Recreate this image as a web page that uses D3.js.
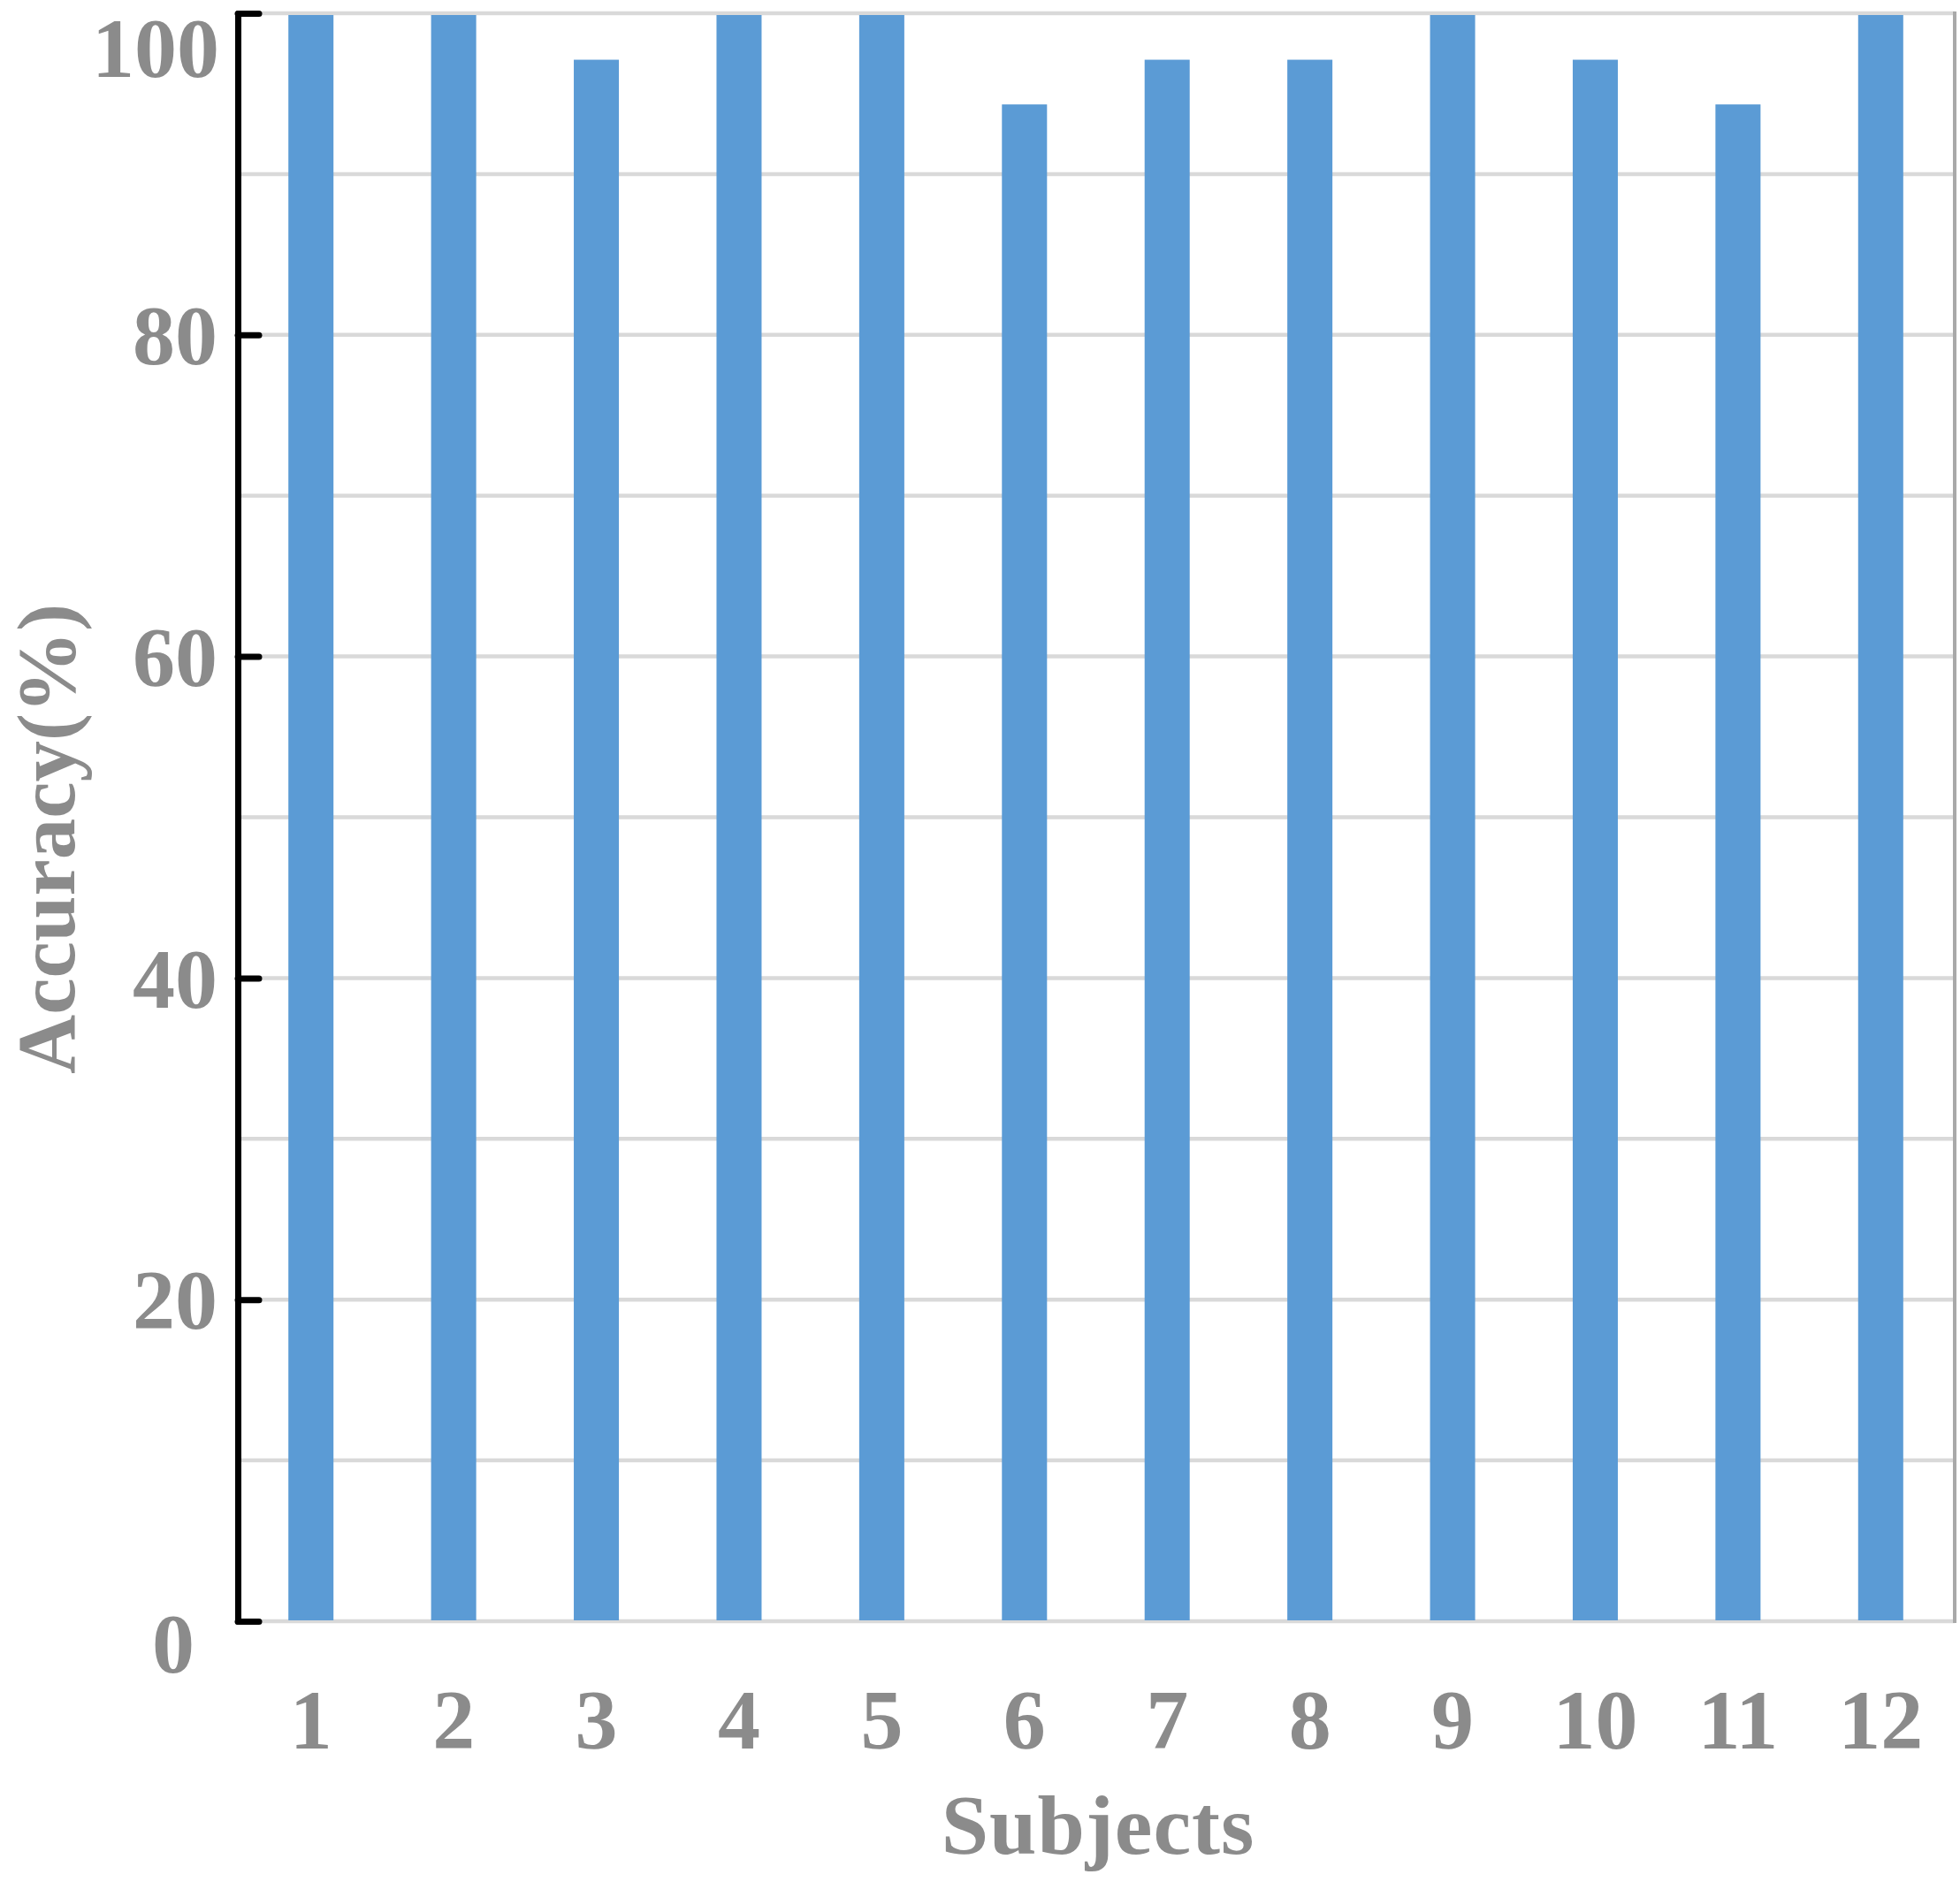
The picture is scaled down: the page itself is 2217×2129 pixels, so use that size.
<!DOCTYPE html>
<html>
<head>
<meta charset="utf-8">
<script src="https://cdn.jsdelivr.net/npm/d3@7"></script>
<style>
	body { margin: 0; background: #fff; }
	svg { display: block; }
</style>
</head>
<body>
<svg id="chart" width="2217" height="2129"></svg>
<script>
var subjects = ["1", "2", "3", "4", "5", "6", "7", "8", "9", "10", "11", "12"],
	accuracy = [100, 100, 97.22, 100, 100, 94.44, 97.22, 97.22, 100, 97.22, 94.44, 100],
	yTicks = [0, 20, 40, 60, 80, 100],
	yGrid = [0, 10, 20, 30, 40, 50, 60, 70, 80, 90, 100];

var data = subjects.map((s, i) => ({subject: s, value: accuracy[i]}));

var svg = d3.select("#chart"),
	margin = {top: 15, left: 269, right: 2211, bottom: 1834},
	font = "'Liberation Serif', 'Times New Roman', serif",
	grey = "#8b8b8b";

svg.append("rect")
	.attr("width", 2217).attr("height", 2129)
	.attr("fill", "#fff")

var x = d3.scaleBand()
	.domain(subjects)
	.range([271, 2208])
	.paddingInner(0.684)
	.paddingOuter(0.342)

var y = d3.scaleLinear()
	.domain([0, 100])
	.range([margin.bottom, margin.top])

// gridlines
svg.append("g")
	.selectAll("line")
	.data(yGrid)
	.enter().append("line")
		.attr("x1", margin.left)
		.attr("x2", margin.right)
		.attr("y1", d => y(d))
		.attr("y2", d => y(d))
		.attr("stroke", "#d9d9d9")
		.attr("stroke-width", 4.5)

// bars
svg.append("g")
	.selectAll("rect")
	.data(data)
	.enter().append("rect")
		.attr("x", d => x(d.subject))
		.attr("y", d => y(d.value) + 2)
		.attr("width", x.bandwidth())
		.attr("height", d => y(0) - y(d.value) - 3)
		.attr("fill", "#5b9bd5")

// right border
svg.append("line")
	.attr("x1", margin.right).attr("x2", margin.right)
	.attr("y1", margin.top - 2).attr("y2", margin.bottom + 2)
	.attr("stroke", "#a9a9a9")
	.attr("stroke-width", 4)

// y axis
var yAxis = svg.append("g")
	.attr("transform", "translate(" + margin.left + ",0)")
	.call(d3.axisLeft(y).tickValues(yTicks).tickSize(-24).tickSizeOuter(0).tickPadding(23))

yAxis.select(".domain")
	.attr("stroke", "#000")
	.attr("stroke-width", 7)
	.attr("stroke-linecap", "round")

yAxis.selectAll(".tick line")
	.attr("stroke", "#000")
	.attr("stroke-width", 7)
	.attr("stroke-linecap", "round")

yAxis.selectAll(".tick text")
	.attr("fill", grey)
	.style("font-family", font)
	.style("font-weight", "bold")
	.style("font-size", "96px")
	.attr("dy", "0.34em")

// edge labels sit a little lower in the original
yAxis.selectAll(".tick text")
	.filter(d => d == 100)
	.attr("dy", "0.74em")
	.attr("x", -21)

yAxis.selectAll(".tick text")
	.filter(d => d == 0)
	.attr("text-anchor", "middle")
	.attr("x", -73)
	.attr("dy", "0.6em")

// x axis labels
var xAxis = svg.append("g")
	.attr("transform", "translate(0," + margin.bottom + ")")
	.call(d3.axisBottom(x).tickSize(0).tickPadding(76))

xAxis.select(".domain").remove()

xAxis.selectAll(".tick text")
	.attr("fill", grey)
	.style("font-family", font)
	.style("font-weight", "bold")
	.style("font-size", "96px")

// titles
svg.append("text")
	.attr("x", 1242)
	.attr("y", 2097)
	.attr("text-anchor", "middle")
	.attr("fill", grey)
	.style("font-family", font)
	.style("font-weight", "bold")
	.style("font-size", "96px")
	.style("letter-spacing", "1px")
	.text("Subjects")

svg.append("text")
	.attr("transform", "translate(84,949) rotate(-90)")
	.attr("text-anchor", "middle")
	.attr("fill", grey)
	.style("font-family", font)
	.style("font-weight", "bold")
	.style("font-size", "93px")
	.text("Accuracy(%)")
</script>
</body>
</html>
